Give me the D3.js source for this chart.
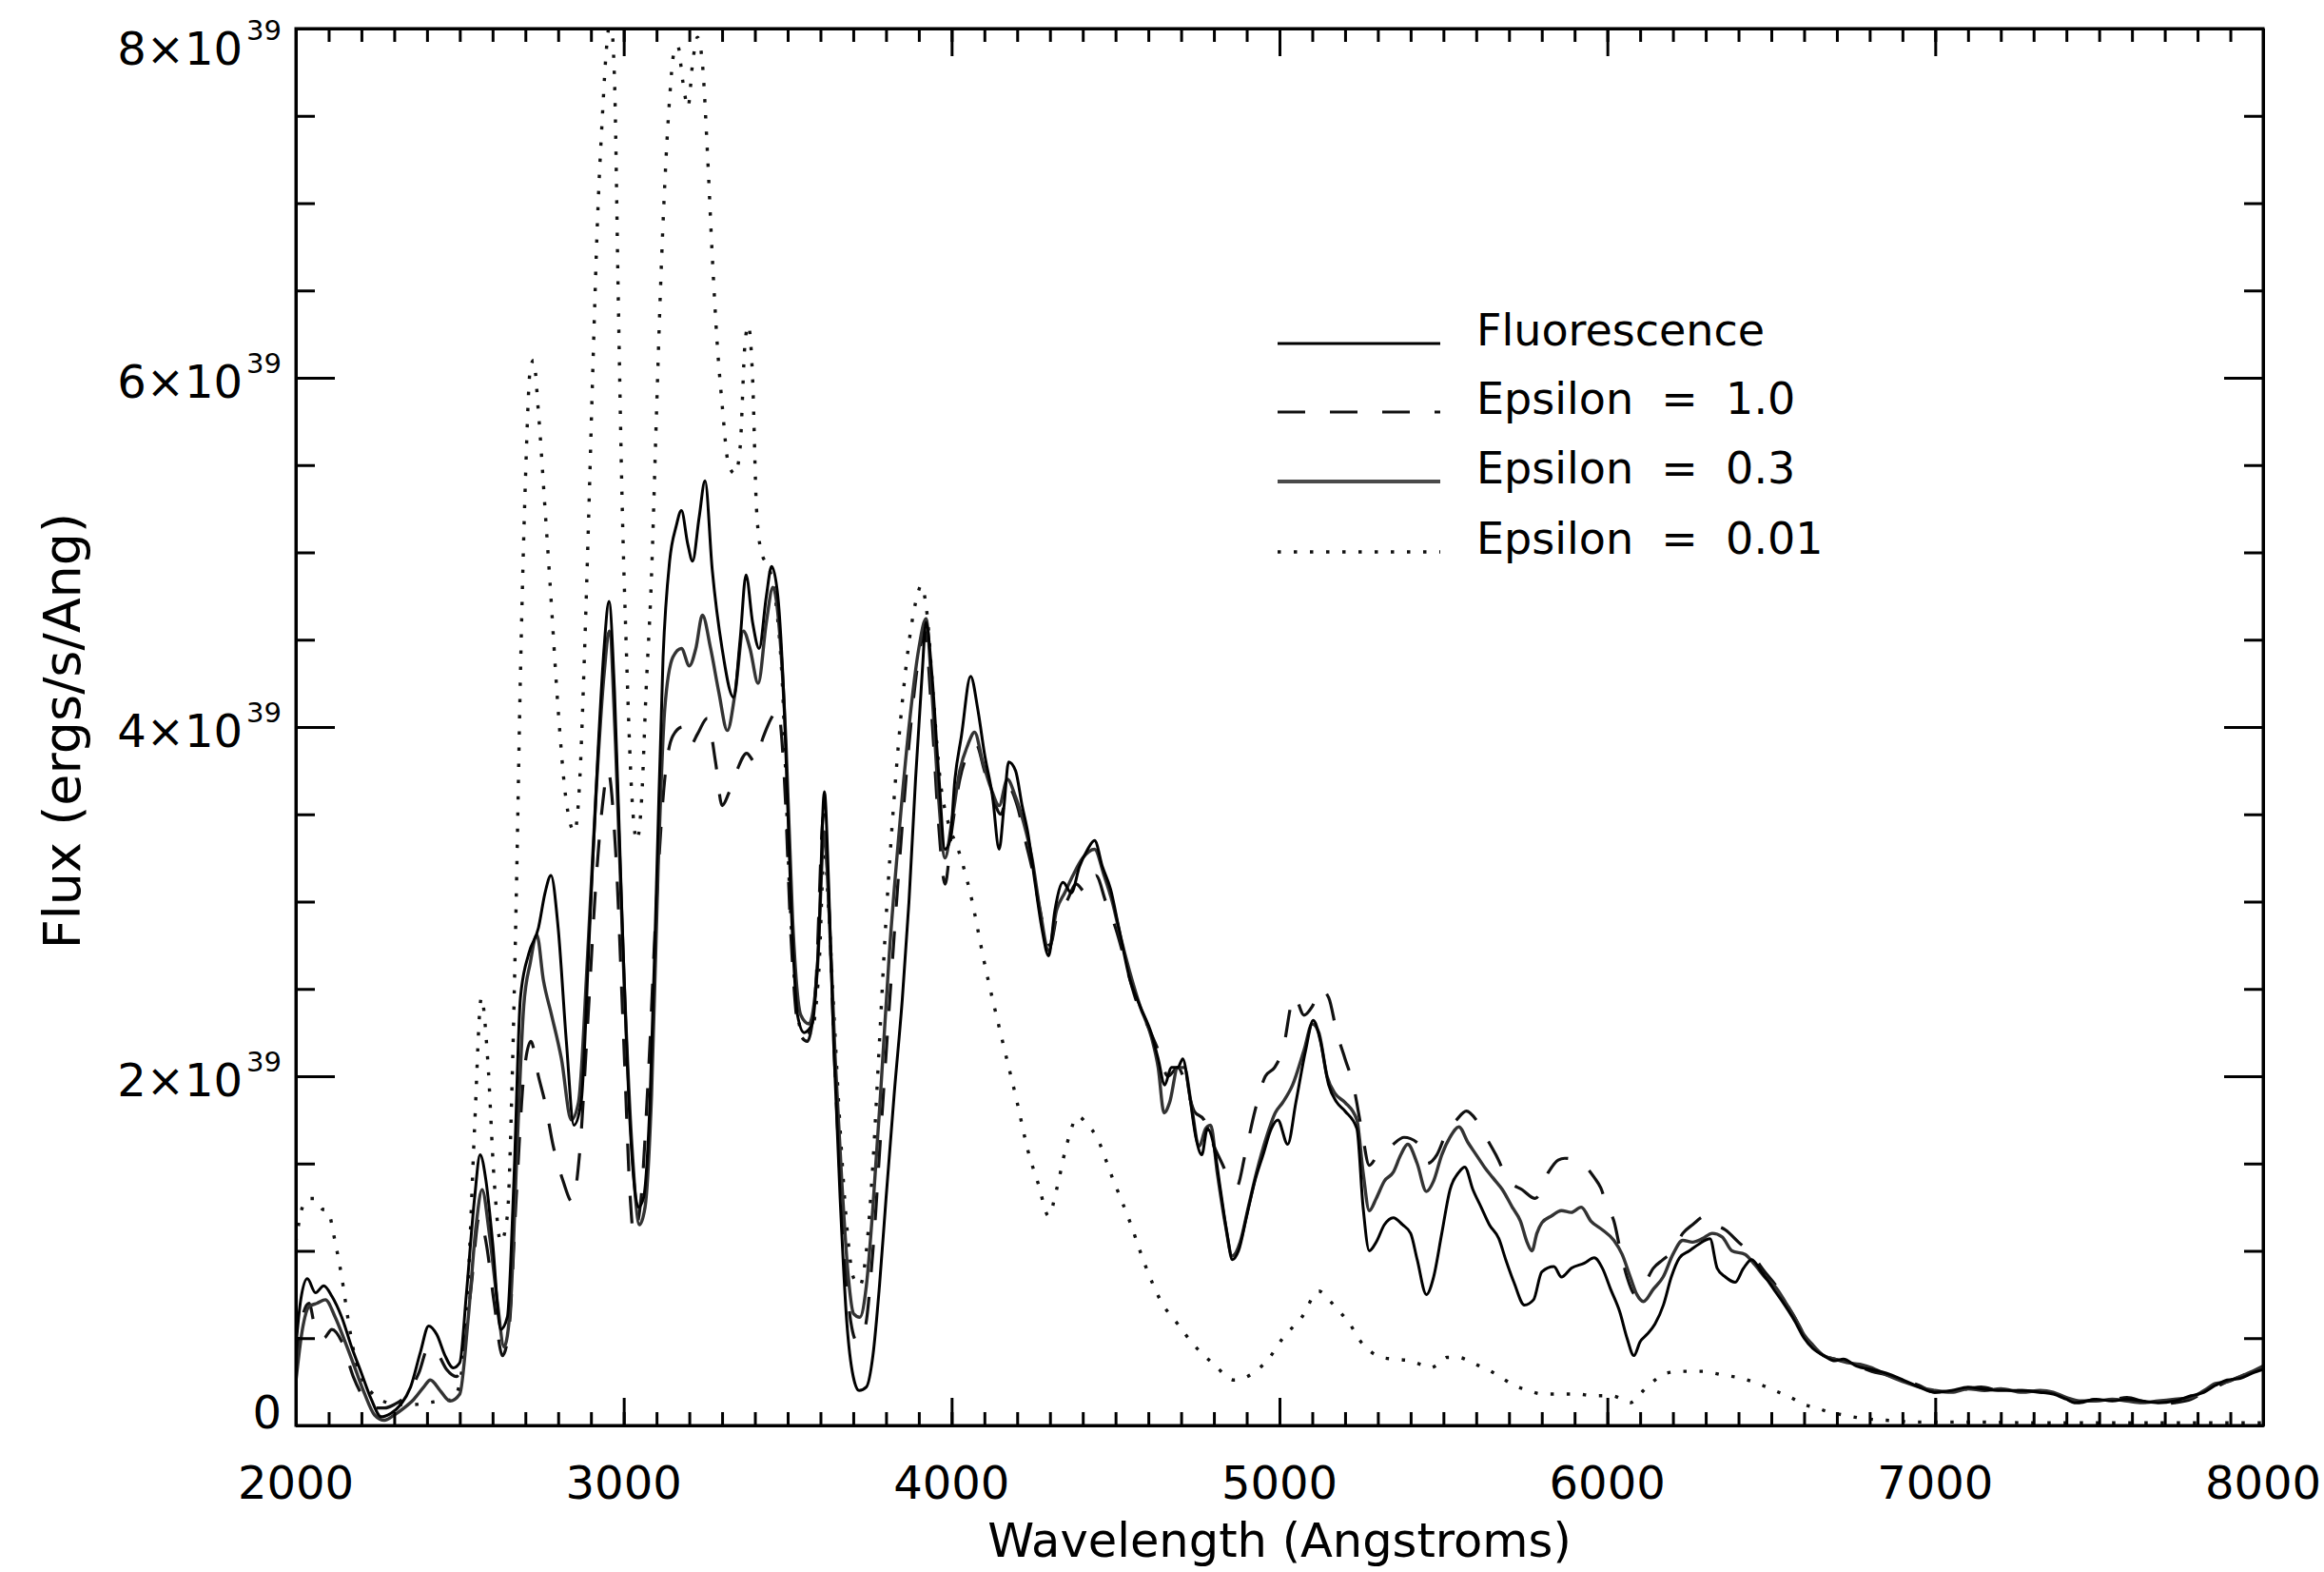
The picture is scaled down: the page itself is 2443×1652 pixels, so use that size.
<!DOCTYPE html>
<html><head><meta charset="utf-8">
<script src="https://cdn.jsdelivr.net/npm/d3@7"></script>
<style>
html,body{margin:0;padding:0;background:#fff;}
svg{display:block;}
text{font-family:"DejaVu Sans",sans-serif;fill:#000;}
</style>
</head><body>
<svg id="chart" width="2443" height="1652"></svg>
<script>
// ---- data (flux in units of 1e39 ergs/s/Ang) ----
const xTickValues = [2000,3000,4000,5000,6000,7000,8000];
const xTickLabels = ["2000","3000","4000","5000","6000","7000","8000"];
const yTickValues = [0,2,4,6,8];
const yTickMantissa = ["0","2","4","6","8"];
const yTickExponent = "39";
const seriesNames = ["Fluorescence","Epsilon  =  1.0","Epsilon  =  0.3","Epsilon  =  0.01"];

const fluorescence = [
[2000,0.45],[2015,0.72],[2035,0.84],[2060,0.76],[2085,0.80],[2110,0.74],[2140,0.62],[2170,0.45],[2200,0.30],[2230,0.15],
[2260,0.05],[2290,0.07],[2320,0.12],[2350,0.22],[2380,0.42],[2405,0.57],[2430,0.52],[2455,0.40],[2480,0.33],[2500,0.36],
[2520,0.75],[2545,1.30],[2562,1.55],[2580,1.40],[2600,1.05],[2625,0.55],[2645,0.62],[2665,1.40],[2685,2.45],[2710,2.70],
[2740,2.85],[2760,3.05],[2778,3.15],[2800,2.85],[2825,2.20],[2848,1.72],[2870,1.85],[2895,2.80],[2920,3.80],[2940,4.45],
[2955,4.72],[2972,4.20],[2995,2.90],[3020,1.70],[3045,1.25],[3060,1.30],[3080,1.85],[3100,3.10],[3120,4.40],[3140,4.95],
[3160,5.15],[3176,5.24],[3195,5.05],[3210,4.95],[3230,5.20],[3248,5.41],[3270,4.90],[3300,4.45],[3335,4.17],[3355,4.50],
[3373,4.87],[3393,4.60],[3413,4.45],[3435,4.75],[3451,4.92],[3470,4.75],[3490,4.10],[3510,3.00],[3530,2.35],[3550,2.25],
[3575,2.30],[3595,2.80],[3612,3.63],[3625,3.10],[3640,2.20],[3660,1.30],[3680,0.60],[3700,0.28],[3718,0.20],[3740,0.22],
[3760,0.40],[3780,0.80],[3800,1.30],[3825,1.90],[3850,2.45],[3870,3.00],[3890,3.70],[3910,4.30],[3922,4.60],[3940,4.30],
[3960,3.75],[3980,3.30],[3995,3.35],[4010,3.70],[4030,3.95],[4058,4.29],[4080,4.10],[4100,3.85],[4125,3.60],[4145,3.30],
[4160,3.55],[4174,3.80],[4195,3.75],[4215,3.55],[4232,3.40],[4255,3.10],[4275,2.85],[4296,2.69],[4315,2.95],[4340,3.11],
[4365,3.05],[4390,3.20],[4415,3.30],[4436,3.35],[4460,3.20],[4485,3.07],[4510,2.85],[4543,2.56],[4575,2.40],[4610,2.24],
[4630,2.10],[4650,1.95],[4670,2.05],[4690,2.05],[4705,2.10],[4725,1.90],[4745,1.65],[4763,1.55],[4780,1.70],[4800,1.60],
[4820,1.35],[4840,1.10],[4856,0.95],[4875,1.00],[4900,1.20],[4925,1.40],[4950,1.55],[4975,1.70],[4995,1.75],[5025,1.61],
[5050,1.85],[5080,2.15],[5103,2.32],[5125,2.20],[5150,1.95],[5175,1.85],[5200,1.80],[5236,1.70],[5255,1.25],[5274,1.00],
[5295,1.05],[5320,1.15],[5347,1.19],[5375,1.15],[5400,1.10],[5420,0.95],[5448,0.75],[5470,0.85],[5495,1.10],[5520,1.35],
[5547,1.45],[5565,1.48],[5590,1.35],[5615,1.25],[5640,1.15],[5669,1.07],[5690,0.95],[5715,0.82],[5747,0.69],[5775,0.72],
[5800,0.88],[5837,0.91],[5860,0.85],[5890,0.90],[5930,0.93],[5960,0.96],[5985,0.90],[6010,0.78],[6038,0.65],[6060,0.50],
[6081,0.40],[6100,0.48],[6120,0.52],[6145,0.58],[6171,0.69],[6195,0.85],[6220,0.96],[6250,1.00],[6280,1.04],[6313,1.07],
[6335,0.90],[6360,0.85],[6390,0.82],[6415,0.90],[6440,0.95],[6470,0.88],[6500,0.80],[6530,0.72],[6571,0.60],[6600,0.50],
[6627,0.44],[6660,0.40],[6694,0.37],[6720,0.38],[6760,0.34],[6806,0.32],[6850,0.30],[6903,0.26],[6950,0.22],[6999,0.19],
[7050,0.20],[7100,0.22],[7140,0.21],[7200,0.20],[7265,0.20],[7320,0.19],[7360,0.18],[7400,0.15],[7425,0.13],[7460,0.14],
[7490,0.15],[7540,0.14],[7585,0.15],[7630,0.14],[7680,0.13],[7730,0.14],[7780,0.17],[7820,0.19],[7855,0.23],[7890,0.26],
[7930,0.27],[7968,0.30],[8000,0.32]];

const epsilon10 = [
[2000,0.35],[2020,0.62],[2040,0.70],[2060,0.55],[2085,0.50],[2110,0.55],[2140,0.48],[2175,0.28],[2210,0.15],[2240,0.10],
[2270,0.10],[2300,0.12],[2340,0.18],[2375,0.30],[2405,0.45],[2430,0.42],[2460,0.32],[2490,0.28],[2510,0.40],[2535,0.80],
[2560,1.20],[2580,1.05],[2605,0.70],[2630,0.40],[2650,0.55],[2672,1.30],[2695,2.00],[2717,2.20],[2740,2.00],[2760,1.85],
[2785,1.60],[2815,1.40],[2843,1.28],[2865,1.55],[2890,2.30],[2915,3.10],[2935,3.55],[2952,3.75],[2975,3.30],[3000,2.20],
[3020,1.30],[3030,1.10],[3050,1.25],[3075,2.00],[3100,3.00],[3125,3.70],[3150,3.95],[3180,4.00],[3205,3.90],[3225,3.96],
[3255,4.05],[3280,3.80],[3300,3.55],[3320,3.62],[3345,3.75],[3375,3.85],[3400,3.80],[3425,3.94],[3450,4.05],[3470,4.10],
[3490,3.70],[3510,2.80],[3535,2.25],[3560,2.20],[3585,2.50],[3610,3.50],[3625,3.00],[3645,2.00],[3670,1.10],[3692,0.60],
[3712,0.48],[3735,0.55],[3760,1.00],[3785,1.70],[3810,2.40],[3840,3.20],[3870,3.90],[3900,4.40],[3918,4.55],[3940,4.05],
[3960,3.45],[3980,3.10],[4000,3.40],[4025,3.70],[4050,3.85],[4075,3.90],[4100,3.75],[4125,3.60],[4150,3.50],[4175,3.65],
[4200,3.55],[4225,3.35],[4250,3.15],[4275,2.90],[4300,2.75],[4325,2.95],[4350,3.00],[4380,3.10],[4410,3.05],[4440,3.15],
[4470,3.00],[4500,2.85],[4530,2.65],[4560,2.45],[4600,2.28],[4630,2.15],[4660,2.00],[4690,2.05],[4715,1.95],[4740,1.80],
[4770,1.75],[4800,1.60],[4825,1.50],[4850,1.40],[4870,1.37],[4895,1.55],[4925,1.80],[4957,2.00],[4985,2.05],[5010,2.15],
[5045,2.46],[5075,2.35],[5100,2.40],[5125,2.50],[5150,2.45],[5175,2.25],[5200,2.10],[5225,1.95],[5250,1.70],[5274,1.49],
[5300,1.55],[5340,1.60],[5380,1.65],[5420,1.62],[5450,1.50],[5480,1.55],[5510,1.68],[5540,1.75],[5570,1.80],[5600,1.75],
[5630,1.65],[5660,1.55],[5700,1.40],[5740,1.35],[5780,1.30],[5820,1.45],[5850,1.52],[5870,1.53],[5900,1.52],[5930,1.49],
[5960,1.42],[5980,1.36],[6000,1.25],[6020,1.17],[6040,1.00],[6060,0.85],[6085,0.75],[6110,0.80],[6140,0.90],[6170,0.95],
[6200,1.00],[6230,1.10],[6260,1.15],[6300,1.20],[6330,1.15],[6360,1.12],[6400,1.05],[6440,0.98],[6480,0.88],[6514,0.80],
[6545,0.70],[6571,0.62],[6600,0.52],[6627,0.45],[6660,0.40],[6694,0.38],[6740,0.36],[6806,0.31],[6850,0.29],[6903,0.26],
[6950,0.23],[6999,0.19],[7050,0.20],[7100,0.21],[7140,0.22],[7200,0.20],[7265,0.20],[7320,0.19],[7360,0.18],[7400,0.15],
[7440,0.13],[7490,0.15],[7540,0.15],[7585,0.16],[7630,0.14],[7680,0.12],[7730,0.13],[7780,0.15],[7820,0.19],[7855,0.22],
[7890,0.25],[7930,0.28],[7968,0.31],[8000,0.34]];

const epsilon03 = [
[2000,0.25],[2020,0.55],[2040,0.68],[2065,0.70],[2090,0.72],[2120,0.62],[2150,0.48],[2180,0.33],[2210,0.18],[2240,0.06],
[2270,0.03],[2300,0.06],[2330,0.10],[2360,0.15],[2390,0.22],[2410,0.26],[2440,0.20],[2470,0.14],[2500,0.18],[2525,0.60],
[2550,1.15],[2568,1.35],[2590,1.10],[2615,0.70],[2635,0.45],[2655,0.70],[2675,1.60],[2695,2.40],[2715,2.65],[2735,2.81],
[2755,2.55],[2780,2.35],[2810,2.10],[2840,1.75],[2862,1.85],[2890,2.70],[2915,3.60],[2940,4.30],[2956,4.55],[2975,3.90],
[3000,2.60],[3025,1.60],[3048,1.15],[3065,1.25],[3085,1.90],[3105,3.20],[3125,4.10],[3150,4.40],[3176,4.45],[3200,4.35],
[3220,4.45],[3240,4.64],[3265,4.45],[3290,4.20],[3316,3.98],[3340,4.20],[3365,4.55],[3385,4.45],[3410,4.25],[3435,4.60],
[3455,4.80],[3475,4.55],[3495,3.90],[3515,2.90],[3540,2.35],[3565,2.30],[3590,2.60],[3612,3.40],[3625,3.00],[3645,2.10],
[3665,1.40],[3685,0.85],[3701,0.64],[3720,0.62],[3740,0.80],[3760,1.25],[3785,1.95],[3810,2.70],[3840,3.40],[3870,4.00],
[3900,4.45],[3922,4.62],[3940,4.20],[3960,3.60],[3980,3.25],[4000,3.45],[4025,3.75],[4050,3.90],[4070,3.97],[4095,3.80],
[4120,3.65],[4145,3.55],[4170,3.70],[4195,3.60],[4220,3.45],[4245,3.25],[4270,2.95],[4296,2.72],[4320,2.95],[4345,3.05],
[4370,3.15],[4400,3.25],[4436,3.30],[4465,3.15],[4490,3.00],[4515,2.80],[4543,2.60],[4575,2.40],[4610,2.22],[4630,2.05],
[4648,1.79],[4665,1.85],[4690,2.05],[4710,2.05],[4730,1.85],[4755,1.60],[4775,1.70],[4790,1.72],[4810,1.45],[4835,1.15],
[4856,0.97],[4880,1.05],[4905,1.25],[4930,1.45],[4960,1.65],[4987,1.79],[5010,1.85],[5040,1.95],[5075,2.15],[5100,2.30],
[5120,2.25],[5145,2.00],[5170,1.90],[5200,1.85],[5236,1.75],[5255,1.45],[5274,1.23],[5295,1.30],[5320,1.40],[5347,1.45],
[5370,1.55],[5391,1.61],[5420,1.50],[5448,1.34],[5470,1.40],[5495,1.55],[5520,1.65],[5547,1.71],[5575,1.62],[5600,1.55],
[5625,1.48],[5650,1.42],[5680,1.35],[5710,1.25],[5735,1.17],[5755,1.05],[5770,1.00],[5785,1.10],[5800,1.16],[5830,1.20],
[5860,1.23],[5890,1.22],[5920,1.25],[5950,1.17],[5985,1.12],[6020,1.06],[6045,0.98],[6070,0.85],[6090,0.75],[6110,0.71],
[6140,0.78],[6170,0.85],[6200,0.98],[6230,1.06],[6260,1.05],[6290,1.07],[6320,1.10],[6350,1.08],[6380,1.00],[6420,0.98],
[6450,0.92],[6480,0.85],[6514,0.79],[6545,0.70],[6571,0.62],[6600,0.52],[6627,0.46],[6660,0.40],[6694,0.38],[6730,0.36],
[6770,0.35],[6806,0.33],[6850,0.29],[6903,0.25],[6950,0.22],[6999,0.20],[7050,0.19],[7100,0.21],[7150,0.20],[7200,0.21],
[7265,0.19],[7320,0.20],[7360,0.19],[7400,0.16],[7440,0.14],[7490,0.14],[7540,0.15],[7585,0.14],[7630,0.13],[7680,0.14],
[7730,0.15],[7780,0.16],[7820,0.20],[7855,0.24],[7890,0.25],[7930,0.28],[7968,0.31],[8000,0.34]];

const epsilon001 = [
[2000,1.05],[2020,1.25],[2040,1.30],[2058,1.30],[2080,1.24],[2097,1.23],[2120,1.05],[2140,0.85],[2160,0.60],[2184,0.36],
[2210,0.24],[2242,0.17],[2280,0.13],[2320,0.12],[2360,0.12],[2400,0.13],[2440,0.14],[2480,0.15],[2505,0.30],[2525,0.80],
[2545,1.70],[2566,2.45],[2585,2.10],[2605,1.40],[2625,1.05],[2645,1.20],[2660,2.00],[2672,3.00],[2685,4.30],[2700,5.40],
[2715,6.05],[2725,6.10],[2740,5.80],[2760,5.25],[2775,4.83],[2800,4.10],[2823,3.60],[2850,3.40],[2866,3.70],[2880,4.40],
[2893,5.20],[2905,6.00],[2920,6.90],[2935,7.50],[2948,7.90],[2960,8.05],[2972,7.70],[2983,6.50],[2995,5.30],[3007,4.50],
[3025,3.60],[3040,3.35],[3055,3.60],[3068,4.20],[3084,4.83],[3100,5.80],[3112,6.50],[3125,7.10],[3140,7.60],[3152,7.85],
[3165,7.90],[3180,7.70],[3196,7.55],[3210,7.80],[3225,7.95],[3240,7.80],[3255,7.30],[3270,6.70],[3285,6.20],[3300,5.85],
[3320,5.50],[3340,5.45],[3355,5.60],[3370,6.20],[3380,6.30],[3393,6.00],[3405,5.25],[3420,5.00],[3445,4.90],[3465,4.70],
[3485,4.20],[3505,3.10],[3525,2.45],[3545,2.25],[3570,2.25],[3595,2.60],[3612,3.30],[3625,2.95],[3640,2.40],[3660,1.70],
[3680,1.15],[3700,0.85],[3720,0.80],[3740,1.00],[3760,1.50],[3780,2.20],[3800,2.90],[3825,3.60],[3850,4.15],[3875,4.55],
[3895,4.75],[3907,4.81],[3925,4.65],[3945,4.15],[3965,3.70],[3990,3.45],[4020,3.30],[4058,3.04],[4100,2.65],[4154,2.21],
[4200,1.85],[4232,1.58],[4265,1.38],[4296,1.20],[4320,1.35],[4350,1.60],[4386,1.77],[4415,1.72],[4440,1.66],[4490,1.42],
[4543,1.17],[4590,0.92],[4639,0.71],[4690,0.58],[4735,0.47],[4800,0.35],[4862,0.26],[4920,0.30],[4970,0.39],[5010,0.50],
[5068,0.62],[5120,0.77],[5150,0.72],[5180,0.66],[5215,0.58],[5248,0.48],[5280,0.42],[5310,0.39],[5350,0.38],[5400,0.37],
[5430,0.35],[5460,0.33],[5490,0.36],[5510,0.39],[5545,0.39],[5578,0.37],[5610,0.34],[5645,0.31],[5680,0.27],[5715,0.23],
[5760,0.20],[5800,0.18],[5850,0.18],[5905,0.18],[5960,0.17],[6015,0.17],[6045,0.15],[6070,0.13],[6090,0.16],[6110,0.20],
[6145,0.26],[6180,0.30],[6230,0.31],[6290,0.31],[6350,0.29],[6410,0.27],[6460,0.24],[6510,0.20],[6560,0.16],[6600,0.12],
[6640,0.10],[6670,0.08],[6720,0.06],[6780,0.04],[6850,0.03],[6950,0.02],[7100,0.02],[7300,0.015],[7600,0.015],[8000,0.015]];

// ---- layout ----
const W = 2443, H = 1652;
const L = 311, R = 2379, T = 30, B = 1498;
const svg = d3.select("#chart");
const x = d3.scaleLinear().domain([2000, 8000]).range([L, R]);
const y = d3.scaleLinear().domain([0, 8]).range([B, T]);

svg.append("defs").append("clipPath").attr("id","plotclip")
  .append("rect").attr("x", L).attr("y", T).attr("width", R - L).attr("height", B - T);

// ---- curves ----
const line = d3.line().x(d => x(d[0])).y(d => y(d[1])).curve(d3.curveMonotoneX);
const styles = [
  {data: epsilon001, stroke: "#111", width: 3.4, dash: "3.5,13.5", cap: "butt"},
  {data: epsilon10,  stroke: "#111", width: 3.2, dash: "29,26", cap: "butt"},
  {data: epsilon03,  stroke: "#333", width: 3.4, dash: null, cap: "butt"},
  {data: fluorescence, stroke: "#000", width: 3.0, dash: null, cap: "butt"}
];
const gLines = svg.append("g").attr("clip-path", "url(#plotclip)");
styles.forEach(s => {
  gLines.append("path").attr("d", line(s.data)).attr("fill", "none")
    .attr("stroke", s.stroke).attr("stroke-width", s.width)
    .attr("stroke-linecap", s.cap).attr("stroke-linejoin", "round")
    .attr("stroke-dasharray", s.dash);
});

// ---- axes (ticks pointing inward on all four sides) ----
const xMinor = d3.range(2000, 8001, 100);
const yMinor = d3.range(0, 8.001, 0.5);
function styleAxis(g){
  g.selectAll("path.domain").attr("stroke", "#000").attr("stroke-width", 3);
  g.selectAll("line").attr("stroke", "#000").attr("stroke-width", 3);
  g.selectAll("text").remove();
}
svg.append("g").attr("transform", `translate(0,${B})`)
  .call(d3.axisBottom(x).tickValues(xMinor).tickSize(-14).tickSizeOuter(0).tickFormat("")).call(styleAxis);
svg.append("g").attr("transform", `translate(0,${B})`)
  .call(d3.axisBottom(x).tickValues(xTickValues).tickSize(-29).tickSizeOuter(0).tickFormat("")).call(styleAxis);
svg.append("g").attr("transform", `translate(0,${T})`)
  .call(d3.axisTop(x).tickValues(xMinor).tickSize(-14).tickSizeOuter(0).tickFormat("")).call(styleAxis);
svg.append("g").attr("transform", `translate(0,${T})`)
  .call(d3.axisTop(x).tickValues(xTickValues).tickSize(-29).tickSizeOuter(0).tickFormat("")).call(styleAxis);
svg.append("g").attr("transform", `translate(${L},0)`)
  .call(d3.axisLeft(y).tickValues(yMinor).tickSize(-20).tickSizeOuter(0).tickFormat("")).call(styleAxis);
svg.append("g").attr("transform", `translate(${L},0)`)
  .call(d3.axisLeft(y).tickValues(yTickValues).tickSize(-41).tickSizeOuter(0).tickFormat("")).call(styleAxis);
svg.append("g").attr("transform", `translate(${R},0)`)
  .call(d3.axisRight(y).tickValues(yMinor).tickSize(-20).tickSizeOuter(0).tickFormat("")).call(styleAxis);
svg.append("g").attr("transform", `translate(${R},0)`)
  .call(d3.axisRight(y).tickValues(yTickValues).tickSize(-41).tickSizeOuter(0).tickFormat("")).call(styleAxis);
svg.append("rect").attr("x", L).attr("y", T).attr("width", R - L).attr("height", B - T)
  .attr("fill", "none").attr("stroke", "#000").attr("stroke-width", 3);

// ---- tick labels ----
const fs = 48;
svg.append("g").selectAll("text").data(xTickValues).join("text")
  .attr("x", d => x(d)).attr("y", B + 77).attr("text-anchor", "middle")
  .attr("font-size", fs).text((d, i) => xTickLabels[i]);

yTickValues.forEach((v, i) => {
  const base = Math.min(Math.max(y(v) + 21, 68), B + 3);
  const t = svg.append("text").attr("x", 296).attr("y", base)
    .attr("text-anchor", "end").attr("font-size", fs);
  if (v === 0) { t.text(yTickMantissa[i]); return; }
  t.append("tspan").text(yTickMantissa[i] + "\u00D710");
  t.append("tspan").attr("dy", -26).attr("dx", 4).attr("font-size", 29).text(yTickExponent);
});

// ---- axis titles ----
svg.append("text").attr("x", (L + R) / 2).attr("y", 1636).attr("text-anchor", "middle")
  .attr("font-size", 49.5).text("Wavelength (Angstroms)");
svg.append("text").attr("transform", `translate(84,${(T + B) / 2 + 4}) rotate(-90)`)
  .attr("text-anchor", "middle").attr("font-size", 54).text("Flux (ergs/s/Ang)");

// ---- legend ----
const legendRows = [361, 433, 506, 580];
const legendStyles = [styles[3], styles[1], styles[2], styles[0]];
legendRows.forEach((ly, i) => {
  const s = legendStyles[i];
  svg.append("line").attr("x1", 1343).attr("x2", 1514).attr("y1", ly).attr("y2", ly)
    .attr("stroke", i === 2 ? "#4a4a4a" : s.stroke).attr("stroke-width", i === 2 ? 4 : s.width)
    .attr("stroke-linecap", s.cap).attr("stroke-dasharray", s.dash);
  svg.append("text").attr("x", 1552).attr("y", ly + 2).attr("font-size", 46)
    .attr("xml:space", "preserve").style("white-space", "pre").text(seriesNames[i]);
});
</script>
</body></html>
